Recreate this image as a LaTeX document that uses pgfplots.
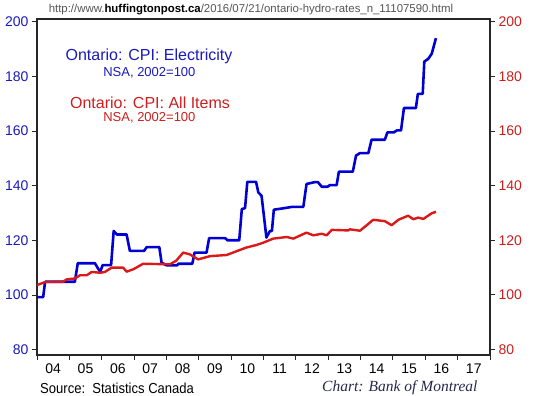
\documentclass[border=0pt]{standalone}
\usepackage{pgfplots}
\pgfplotsset{compat=1.18}
\usepackage{fontspec}
\setmainfont{Liberation Sans}
\newfontfamily\serifit{Liberation Serif}
\definecolor{cblue}{RGB}{0,0,210}
\definecolor{cred}{RGB}{220,25,25}
\definecolor{lblue}{RGB}{25,25,190}
\definecolor{lred}{RGB}{205,30,30}
\definecolor{urlgray}{RGB}{85,85,85}
\definecolor{chartc}{RGB}{40,40,75}
\begin{document}
\begin{tikzpicture}[x=1pt,y=1pt]
\useasboundingbox (0,0) rectangle (533,396);
\begin{axis}[
  at={(37pt,41pt)}, anchor=south west, scale only axis,
  width=453pt, height=336pt,
  xmin=2004, xmax=2018, ymin=78, ymax=201,
  axis line style={line width=1.2pt, black!85},
  xtick={2004,...,2018},
  xticklabels={04,05,06,07,08,09,10,11,12,13,14,15,16,17},
  x tick label as interval,
  minor x tick num=3,
  ytick={80,100,...,200},
  tick align=outside, xtick pos=bottom, ytick pos=left,
  major tick length=5pt, minor tick length=3pt,
  every tick/.style={line width=0.8pt, black!85},
  ticklabel style={font=\fontsize{14}{16}\selectfont},
  xticklabel style={yshift=-3pt, inner sep=1pt},
  yticklabel style={text=lblue},
  /pgf/number format/assume math mode=true,
  clip=false,
]
\addplot[cblue, line width=2.6pt, line join=round] coordinates {
(2004.00,99.2) (2004.19,99.2) (2004.25,104.8) (2005.17,104.8) (2005.26,111.6)
(2005.79,111.6) (2005.95,108.4) (2006.03,110.9) (2006.29,110.9) (2006.37,123.4)
(2006.47,122.1) (2006.77,122.1) (2006.87,116.1) (2007.31,116.1) (2007.39,117.5)
(2007.78,117.5) (2007.85,111.8) (2008.01,110.8) (2008.32,110.8) (2008.37,111.4)
(2008.80,111.4) (2008.87,115.5) (2009.24,115.5) (2009.32,120.8) (2009.81,120.8)
(2009.89,120.0) (2010.25,120.0) (2010.33,131.4) (2010.43,131.8) (2010.50,141.4)
(2010.77,141.4) (2010.84,137.5) (2010.94,136.3) (2011.09,121.0) (2011.20,123.4)
(2011.26,123.4) (2011.32,131.2) (2011.56,131.6) (2011.87,132.2) (2012.23,132.2)
(2012.33,140.6) (2012.59,141.3) (2012.68,141.3) (2012.80,139.6) (2012.98,139.6)
(2013.05,140.2) (2013.26,140.2) (2013.33,145.1) (2013.76,145.1) (2013.86,151.0)
(2013.98,151.9) (2014.24,151.9) (2014.34,156.8) (2014.75,156.8) (2014.83,159.5)
(2015.03,159.5) (2015.12,160.2) (2015.25,160.2) (2015.34,168.4) (2015.71,168.4)
(2015.77,173.6) (2015.92,173.6) (2015.97,185.4) (2016.09,186.4) (2016.20,188.3)
(2016.33,194.0)
};
\addplot[cred, line width=2.4pt, line join=round] coordinates {
(2004.00,103.6) (2004.25,104.7) (2004.80,104.8) (2004.92,105.7) (2005.17,106.0)
(2005.33,107.2) (2005.54,107.2) (2005.69,108.4) (2005.95,108.1) (2006.10,108.4)
(2006.31,110.0) (2006.66,110.0) (2006.77,108.5) (2006.98,109.4) (2007.28,111.4)
(2008.11,111.2) (2008.30,112.5) (2008.52,115.5) (2008.73,114.8) (2008.98,113.0)
(2009.35,114.2) (2009.86,114.6) (2010.17,116.0) (2010.46,117.3) (2010.79,118.3)
(2010.99,119.1) (2011.30,120.6) (2011.72,121.2) (2011.92,120.6) (2012.33,122.8)
(2012.54,121.8) (2012.80,122.4) (2012.95,121.8) (2013.11,123.8) (2013.62,123.6)
(2013.67,124.0) (2013.98,123.5) (2014.19,125.5) (2014.39,127.5) (2014.75,127.0)
(2014.96,125.5) (2015.17,127.5) (2015.47,129.0) (2015.63,127.7) (2015.78,128.3)
(2015.94,127.8) (2016.20,129.9) (2016.33,130.4)
};
\end{axis}
\begin{axis}[
  at={(37pt,41pt)}, anchor=south west, scale only axis,
  width=453pt, height=336pt,
  xmin=2004, xmax=2018, ymin=78, ymax=201,
  axis x line=none, axis y line*=right,
  axis line style={line width=1.2pt, black!85, -},
  ytick={80,100,...,200},
  tick align=outside,
  major tick length=5pt,
  every tick/.style={line width=0.8pt, black!85},
  ticklabel style={font=\fontsize{14}{16}\selectfont},
  yticklabel style={text=lred},
  /pgf/number format/assume math mode=true,
]
\end{axis}
\node[text=urlgray, font=\fontsize{11.4}{13}\selectfont] at (251,386)
  {http://www.{\color{black}\bfseries huffingtonpost.ca}/2016/07/21/ontario-hydro-rates\_n\_11107590.html};
\node[text=lblue, font=\fontsize{16}{18}\selectfont] at (149,339.3) {Ontario: CPI: Electricity};
\node[text=lblue, font=\fontsize{13}{15}\selectfont] at (149.4,323.7) {NSA, 2002=100};
\node[text=lred, font=\fontsize{16}{18}\selectfont] at (150,293.3) {Ontario: CPI: All Items};
\node[text=lred, font=\fontsize{13}{15}\selectfont] at (149.4,278.7) {NSA, 2002=100};
\node[anchor=west, inner sep=0pt] at (40,7.5) {\scalebox{0.9}[1]{\fontsize{14.5}{16}\selectfont Source:\ \ Statistics Canada}};
\node[anchor=west, inner sep=0pt, text=chartc] at (322,8.5) {\serifit\itshape\fontsize{15.5}{17}\selectfont Chart: Bank of Montreal};
\end{tikzpicture}
\end{document}
